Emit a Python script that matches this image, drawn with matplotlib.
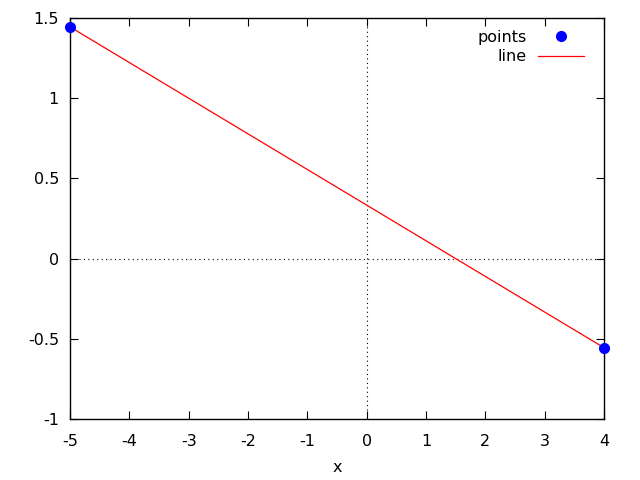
import matplotlib
matplotlib.use("Agg")
import matplotlib.pyplot as plt
from matplotlib.ticker import FuncFormatter

plt.rcParams['font.family'] = ['DejaVu Sans']

px = [-5, 4]
py = [13/9, -5/9]
lx = [-5, 4]
ly = [13/9, -5/9]

xticks = [-5, -4, -3, -2, -1, 0, 1, 2, 3, 4]
yticks = [-1, -0.5, 0, 0.5, 1, 1.5]

fig = plt.figure(figsize=(6.4, 4.8), dpi=100)
ax = fig.add_axes([70/640, 1-419/480, (604-70)/640, (419-18)/480])

ax.axhline(0, color='black', lw=0.8, ls=(0, (1, 3)), zorder=1)
ax.axvline(0, color='black', lw=0.8, ls=(0, (1, 3)), zorder=1)

ax.plot(px, py, 'o', color='blue', markersize=7, label='points', zorder=4, clip_on=False)
ax.plot(lx, ly, '-', color='red', lw=0.9, label='line', zorder=3)

ax.set_xlim(-5, 4)
ax.set_ylim(-1, 1.5)
ax.set_xticks(xticks)
ax.set_yticks(yticks)
fmt = FuncFormatter(lambda v, p: ('%g' % v))
ax.xaxis.set_major_formatter(fmt)
ax.yaxis.set_major_formatter(fmt)
ax.tick_params(axis='x', pad=11)
ax.tick_params(axis='y', pad=8)
ax.tick_params(direction='in', top=True, right=True, length=6, width=0.8, labelsize=11.5)
for s in ax.spines.values():
    s.set_linewidth(1.0)
ax.set_xlabel('x', fontsize=11.5, labelpad=8)

leg = ax.legend(loc='upper right', bbox_to_anchor=(584/640, 1-30/480),
                bbox_transform=fig.transFigure, frameon=False, markerfirst=False,
                fontsize=11.5, handlelength=2.9, borderaxespad=0, borderpad=0,
                labelspacing=0.27, handletextpad=0.7)
for t in leg.get_texts():
    t.set_ha('right')

fig.savefig('out.png', dpi=100)
